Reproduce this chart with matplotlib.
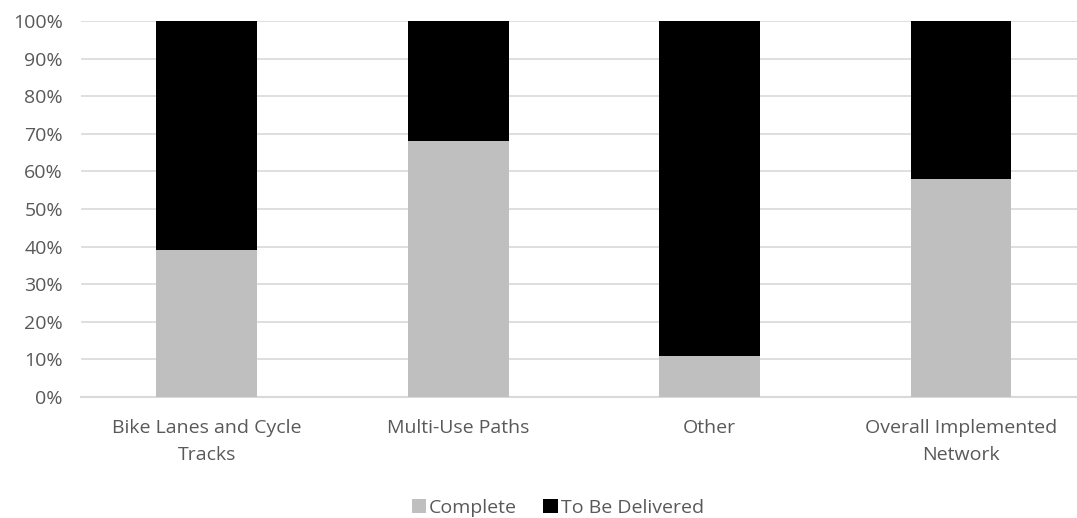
import numpy as np
import matplotlib.pyplot as plt
from matplotlib.ticker import PercentFormatter

categories = ["Bike Lanes and Cycle\nTracks", "Multi-Use Paths", "Other", "Overall Implemented\nNetwork"]
complete = [39, 68, 11, 58]
toBeDelivered = [61, 32, 89, 42]

plt.rcParams['font.family'] = ['Open Sans', 'DejaVu Sans']
textColor = '#595959'

fig = plt.figure(figsize=(10.77, 5.18), dpi=100)
# plot area runs past the right edge of the picture, as in the original crop
ax = fig.add_axes([0.0752, 0.2336, 0.934, 0.7259])

x = np.arange(len(categories))
ax.bar(x, complete, width=0.4, color='#bfbfbf', label='Complete', zorder=3)
ax.bar(x, toBeDelivered, width=0.4, bottom=complete, color='#000000', label='To Be Delivered', zorder=3)

ax.set_xlim(-0.5, len(categories) - 0.5)
ax.set_ylim(0, 100)
ax.set_yticks(np.arange(0, 101, 10))
ax.yaxis.set_major_formatter(PercentFormatter(decimals=0))
ax.set_xticks(x)
ax.set_xticklabels(categories, color=textColor, fontsize=14, linespacing=1.65)
ax.tick_params(axis='y', colors=textColor, labelsize=14, length=0, pad=13)
ax.tick_params(axis='x', length=0, pad=16)

ax.grid(axis='y', color='#d9d9d9', linewidth=1.2, zorder=0)
for side in ['top', 'right', 'left']:
    ax.spines[side].set_visible(False)
ax.spines['bottom'].set_color('#d9d9d9')
ax.spines['bottom'].set_linewidth(1.5)

ax.legend(loc='center', bbox_to_anchor=(0.474, -0.295), ncol=2, frameon=False,
          fontsize=14, handlelength=0.75, handleheight=0.75, handletextpad=0.15,
          columnspacing=1.35, labelcolor=textColor)

fig.savefig('out.png', dpi=100)
